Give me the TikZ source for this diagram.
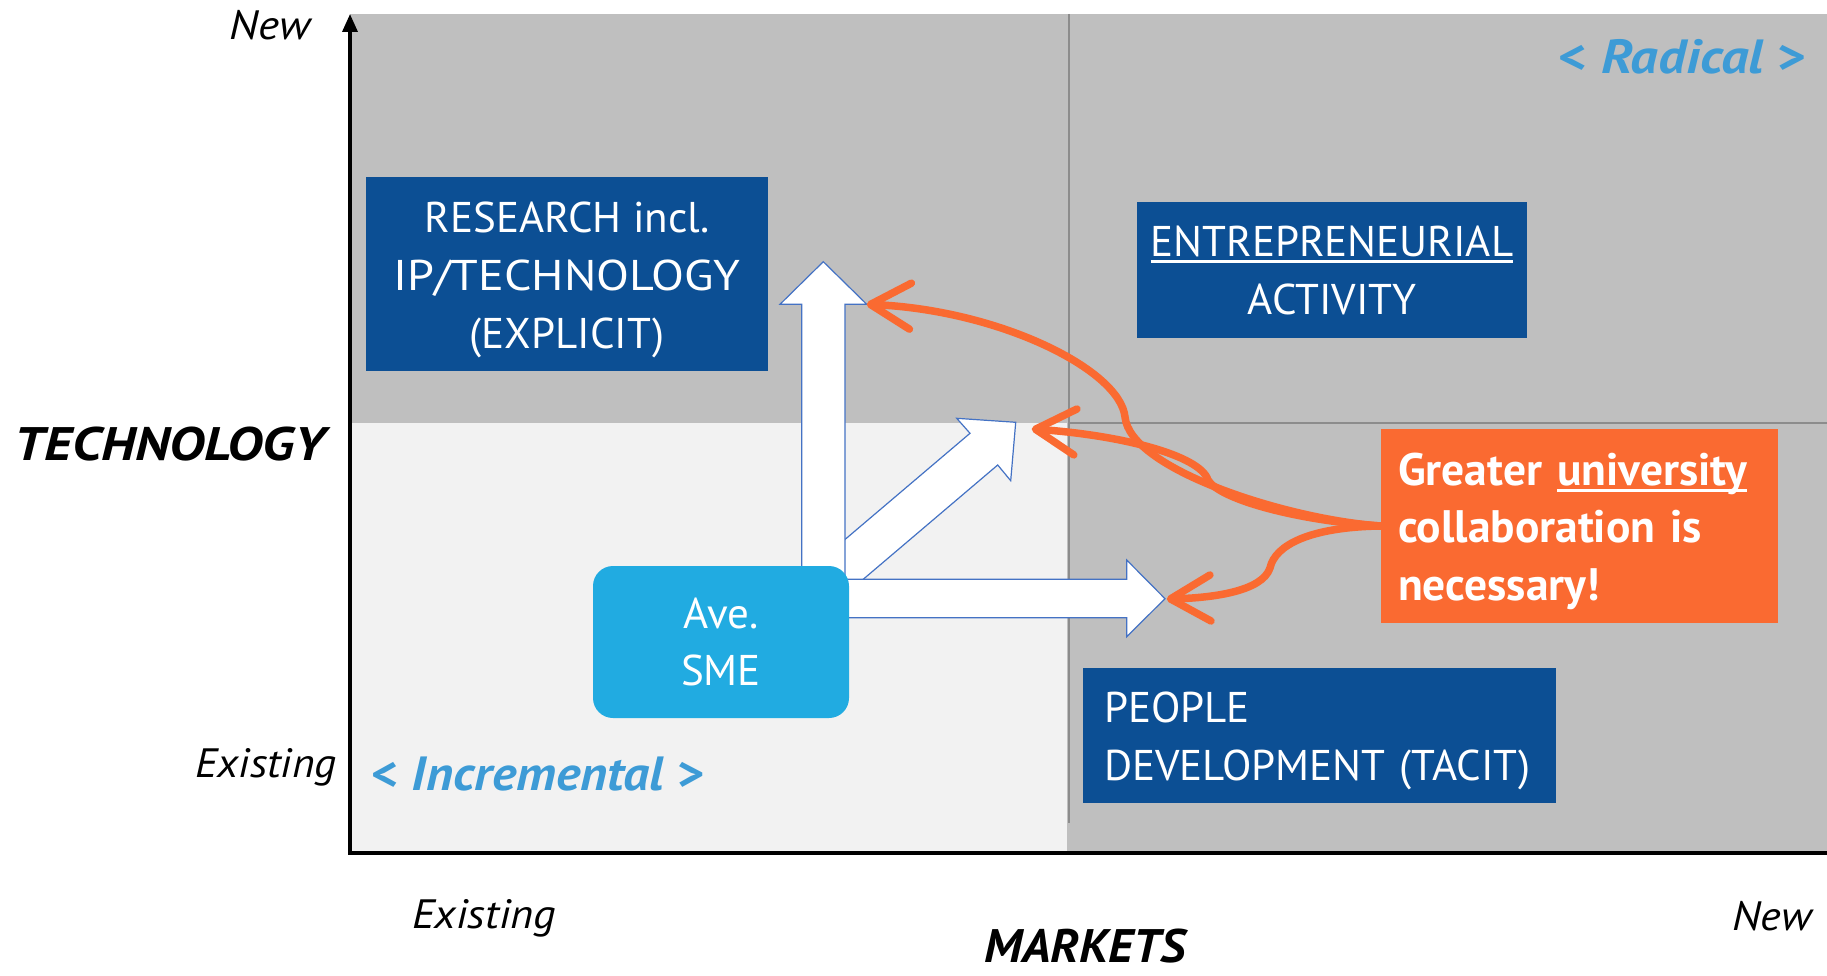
\documentclass[tikz,border=0pt]{standalone}
\usepackage{fontspec}
\usepackage{graphicx}
\setmainfont{PT Sans}
\usetikzlibrary{arrows.meta}
\definecolor{dkblue}{HTML}{0C4F94}
\definecolor{ltblue}{HTML}{21ABE1}
\definecolor{orng}{HTML}{FA6A31}
\definecolor{txtblue}{HTML}{3D9BD6}
\definecolor{grayA}{HTML}{BFBFBF}
\definecolor{grayL}{HTML}{F2F2F2}
\definecolor{divgray}{HTML}{8C8C8C}
\definecolor{arrblue}{HTML}{4472C4}
\newsavebox\ulbox
\newcommand\myul[1]{\sbox\ulbox{#1}\rlap{\rule[-7pt]{\wd\ulbox}{3pt}}\usebox\ulbox}
\newcommand\topstrut[1]{\rule{0pt}{#1}}
\newcommand\botstrut[1]{\rule[-#1]{0pt}{#1}}
\newcommand\hs[2]{\scalebox{#1}[1]{#2}}
\begin{document}
\begin{tikzpicture}[x=1pt,y=-1pt,
  box/.style={fill=dkblue, text=white, inner sep=0pt, font=\fontsize{43}{58}\selectfont, align=center},
  ax/.style={line width=3.5pt, draw=black},
  blk/.style={fill=white, draw=arrblue, line width=1.2pt, line join=miter},
  orarrow/.style={draw=orng, line width=7.5pt, line cap=round, line join=round, -{Straight Barb[length=40pt,width=46pt,round]}},
  axlab/.style={inner sep=0pt, font=\fontsize{41}{49}\selectfont\itshape},
  axtitle/.style={inner sep=0pt, font=\fontsize{47}{56}\selectfont\bfseries\itshape},
  zone/.style={inner sep=0pt, text=txtblue, font=\fontsize{48}{56}\selectfont\bfseries}
]
\useasboundingbox (0,0) rectangle (1827,976);
% backgrounds
\fill[grayA] (350,14) rectangle (1827,853);
\fill[grayL] (350,423) rectangle (1067,853);
\draw[divgray, line width=2pt] (1069,14) -- (1069,823);
\draw[divgray, line width=2pt] (1069,423) -- (1827,423);
% axes
\coordinate (origin) at (350,853);
\coordinate (ytop) at (350,14);
\coordinate (xend) at (1827,853);
\draw[ax, -{Triangle[length=18pt,width=15pt]}] ([yshift=-1.75pt]origin) -- (ytop);
\draw[ax] ([xshift=-1.75pt]origin) -- (xend);
% axis labels
\node[axlab, anchor=base] (newy) at (270,40) {\hs{1.1}{New}};
\node[axtitle, anchor=base] (tech) at (170,460) {\hs{1.16}{TECHNOLOGY}};
\node[axlab, anchor=base east] (exy) at (337,777) {\hs{1.06}{Existing}};
\node[axlab, anchor=base] (exx) at (484,928) {\hs{1.08}{Existing}};
\node[axlab, anchor=base] (newx) at (1772,930) {\hs{1.08}{New}};
\node[axtitle, anchor=base] (mkts) at (1085,962) {\hs{1.05}{MARKETS}};
\node[zone, anchor=base west] (incr) at (371,790) {\hs{1.08}{< \textit{Incremental} >}};
\node[zone, anchor=base east] (radi) at (1807,74) {\hs{1.14}{< \textit{Radical} >}};
% boxes
\node[box, minimum width=402pt, minimum height=194pt] (research) at (567,274) {\topstrut{45pt}RESEARCH incl.\\\hs{1.12}{IP/TECHNOLOGY}\\(EXPLICIT)\botstrut{13pt}};
\node[box, minimum width=390pt, minimum height=136pt] (entre) at (1332,270) {\topstrut{31pt}\myul{ENTREPRENEURIAL}\\ACTIVITY};
\node[box, text width=431pt, align=left, inner xsep=21pt, minimum height=135pt] (people) at (1319.5,735.5) {\topstrut{45pt}PEOPLE\\DEVELOPMENT (TACIT)\botstrut{12.5pt}};
\node[box, fill=orng, font=\fontsize{45.5}{57.5}\selectfont\bfseries, text width=363pt, align=left, inner xsep=17pt, minimum height=194pt] (collab) at (1579.5,526) {\topstrut{46pt}Greater \myul{university}\\collaboration is\\necessary!\botstrut{13pt}};
% block arrows
\draw[blk] (956.7,418.3) -- (1015.7,422.3) -- (1010.7,480.7) -- (997.7,465) -- (850.6,590) -- (830,552.2) -- (970,433.3) -- cycle;
\draw[blk] (801.7,600) -- (801.7,304.3) -- (780,304.3) -- (823.3,261.7) -- (866.7,304.3) -- (845,304.3) -- (845,600) -- cycle;
\draw[blk] (820,579.3) -- (1126.7,579.3) -- (1126.7,560) -- (1165,598.7) -- (1126.7,636.7) -- (1126.7,617.7) -- (820,617.7) -- cycle;
% SME
\node[box, fill=ltblue, rounded corners=20pt, minimum width=256pt, minimum height=152pt, font=\fontsize{43}{57}\selectfont] (sme) at (721,642) {Ave.\\SME};
% orange connectors
\coordinate (tipA) at (866.7,304.3);
\coordinate (tipB) at (1031.7,429);
\coordinate (tipC) at (1166.7,599);
\draw[orarrow] (collab.west) .. controls (1290,520) and (1130,470) .. (1125,417) .. controls (1120,370) and (1000,310) .. (tipA);
\draw[orarrow] (collab.west) .. controls (1300,521) and (1220,500) .. (1208,480) .. controls (1200,455) and (1120,435) .. (tipB);
\draw[orarrow] (collab.west) .. controls (1310,527) and (1275,545) .. (1270,568) .. controls (1262,592) and (1210,598) .. (tipC);
\end{tikzpicture}
\end{document}
